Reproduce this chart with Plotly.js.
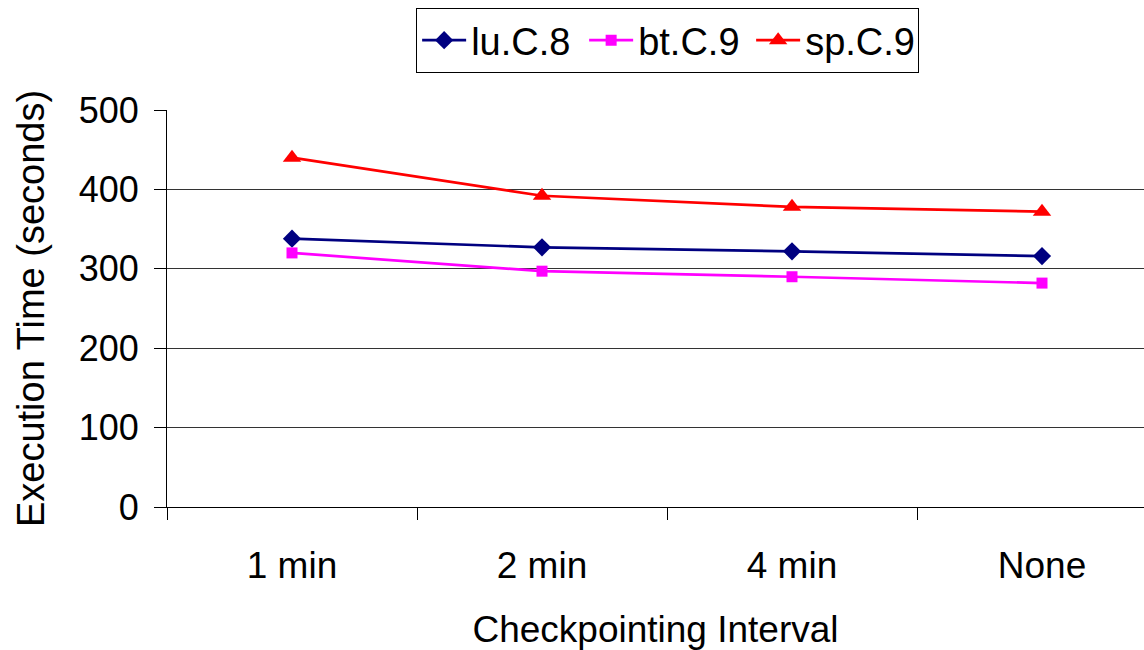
<!DOCTYPE html>
<html>
<head>
<meta charset="utf-8">
<script src="https://cdn.plot.ly/plotly-3.0.1.min.js"></script>
<style>html,body{margin:0;padding:0;background:#fff;}#chart{width:1144px;height:650px;}</style>
</head>
<body>
<div id="chart"></div>
<script>
const categories = ["1 min", "2 min", "4 min", "None"];
const luC8 = [338, 327, 322, 316];
const btC9 = [320, 297, 290, 282];
const spC9 = [440, 392, 378, 372];
const yTicks = [0, 100, 200, 300, 400, 500];

const font = "Liberation Sans, Arial, sans-serif";
const traces = [
  {x: categories, y: luC8, name: "lu.C.8", type: "scatter", mode: "lines+markers",
   line: {color: "#000080", width: 2.7}, marker: {symbol: "diamond", size: 14, color: "#000080"}},
  {x: categories, y: btC9, name: "bt.C.9", type: "scatter", mode: "lines+markers",
   line: {color: "#FF00FF", width: 2.7}, marker: {symbol: "square", size: 11, color: "#FF00FF"}},
  {x: categories, y: spC9, name: "sp.C.9", type: "scatter", mode: "lines+markers",
   line: {color: "#FF0000", width: 2.7}, marker: {symbol: "triangle-up", size: 16, color: "#FF0000"}}
];
const layout = {
  width: 1144, height: 650,
  margin: {l: 167, r: 0, t: 110, b: 143},
  paper_bgcolor: "#fff", plot_bgcolor: "#fff",
  font: {family: font, color: "#000", size: 37},
  showlegend: true,
  legend: {orientation: "h", x: 0.255, xanchor: "left", y: 1.257, yanchor: "top",
    bordercolor: "#000", borderwidth: 1, font: {size: 38, family: font}, bgcolor: "#fff",
    itemwidth: 44, entrywidth: 108, entrywidthmode: "pixels", tracegroupgap: 0},
  xaxis: {type: "category", categoryorder: "array", categoryarray: categories,
    range: [-0.5, 3.408], tickson: "boundaries", ticks: "outside", ticklen: 12, tickcolor: "#000",
    showline: true, linecolor: "#000", linewidth: 1, showgrid: false, zeroline: false,
    tickfont: {size: 37, family: font}, ticklabelstandoff: 26,
    title: {text: "Checkpointing Interval", font: {size: 37, family: font}, standoff: 32}},
  yaxis: {range: [0, 500], tickvals: yTicks, ticks: "outside", ticklen: 12, tickcolor: "#000",
    showline: true, linecolor: "#000", linewidth: 1, showgrid: true, gridcolor: "#333", gridwidth: 1,
    zeroline: false, tickfont: {size: 36, family: font}, ticklabelstandoff: 8,
    title: {text: "Execution Time (seconds)", font: {size: 38, family: font}, standoff: 22}}
};
Plotly.newPlot("chart", traces, layout, {displayModeBar: false, staticPlot: true});
</script>
</body>
</html>
